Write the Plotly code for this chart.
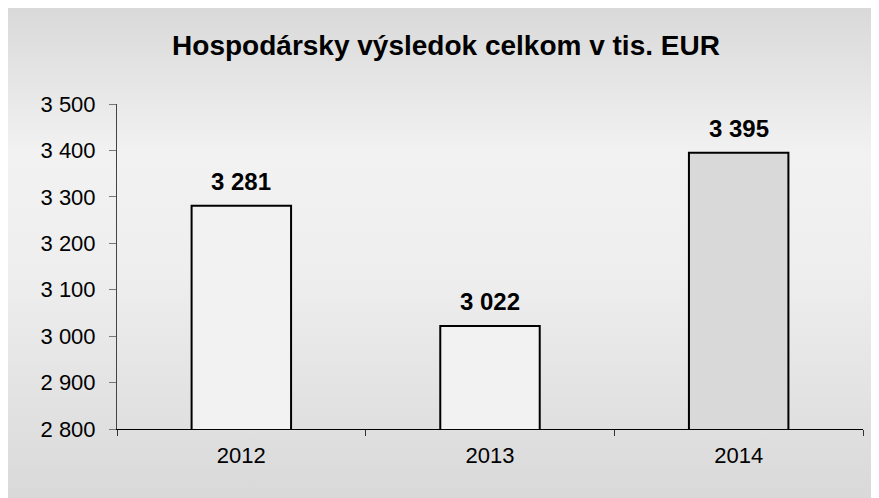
import base64
import plotly.graph_objects as go

years = ["2012", "2013", "2014"]
values = [3281, 3022, 3395]
bar_colors = ["#f2f2f2", "#f2f2f2", "#d9d9d9"]
title_text = "Hospodársky výsledok celkom v tis. EUR"

W, H = 871, 490
L, R, T, B = 109, 16, 96, 69
pw, ph = W - L - R, H - T - B
FONT = "Liberation Sans, Arial, sans-serif"

svg = ('<svg xmlns="http://www.w3.org/2000/svg" width="100" height="100" preserveAspectRatio="none">'
       '<defs><linearGradient id="g" x1="0" y1="0" x2="0" y2="1">'
       '<stop offset="0" stop-color="#d9d9d9"/>'
       '<stop offset="0.3" stop-color="#f2f2f2"/>'
       '<stop offset="0.55" stop-color="#eeeeee"/>'
       '<stop offset="1" stop-color="#d9d9d9"/>'
       '</linearGradient></defs>'
       '<rect x="0" y="0" width="100" height="100" fill="url(#g)"/></svg>')
src = "data:image/svg+xml;base64," + base64.b64encode(svg.encode()).decode()

fig = go.Figure()
fig.add_trace(go.Bar(
    x=years, y=values,
    marker=dict(color=bar_colors, line=dict(color="#000000", width=2)),
    width=0.4,
    hoverinfo="skip",
))

for i, v in enumerate(values):
    fig.add_annotation(
        x=i, y=v, xref="x", yref="y",
        text="<b>" + f"{v:,}".replace(",", " ") + "</b>",
        showarrow=False, yanchor="bottom", yshift=9,
        font=dict(family=FONT, size=24, color="#000000"),
    )

fig.add_layout_image(dict(
    source=src, xref="paper", yref="paper",
    x=-L / pw, y=(H - B) / ph,
    sizex=W / pw, sizey=H / ph,
    xanchor="left", yanchor="top", sizing="stretch", layer="below",
))

fig.update_layout(
    width=W, height=H,
    margin=dict(l=L, r=R, t=T, b=B, pad=0),
    paper_bgcolor="#e6e6e6",
    plot_bgcolor="rgba(0,0,0,0)",
    separators=". ",
    showlegend=False,
    title=dict(text="<b>" + title_text + "</b>", x=438 / W, xref="container", xanchor="center",
               y=1 - 37 / H, yref="container", yanchor="middle",
               font=dict(family=FONT, size=28, color="#000000")),
    font=dict(family=FONT, size=22, color="#000000"),
)
fig.update_xaxes(
    type="category", categoryorder="array", categoryarray=years,
    range=[-0.5, len(years) - 0.5],
    showgrid=False, showline=True, linecolor="#000000", linewidth=1,
    ticks="outside", tickson="boundaries", ticklen=6, tickcolor="#333333",
    tickfont=dict(size=22), zeroline=False, ticklabelstandoff=7,
)
fig.update_yaxes(
    range=[2800, 3500], dtick=100, tickformat=",d", showgrid=False,
    showline=True, linecolor="#444444", linewidth=1,
    ticks="outside", ticklen=7, tickcolor="#777777",
    tickfont=dict(size=22), zeroline=False, ticklabelstandoff=9,
)

fig.write_html("out.html")
